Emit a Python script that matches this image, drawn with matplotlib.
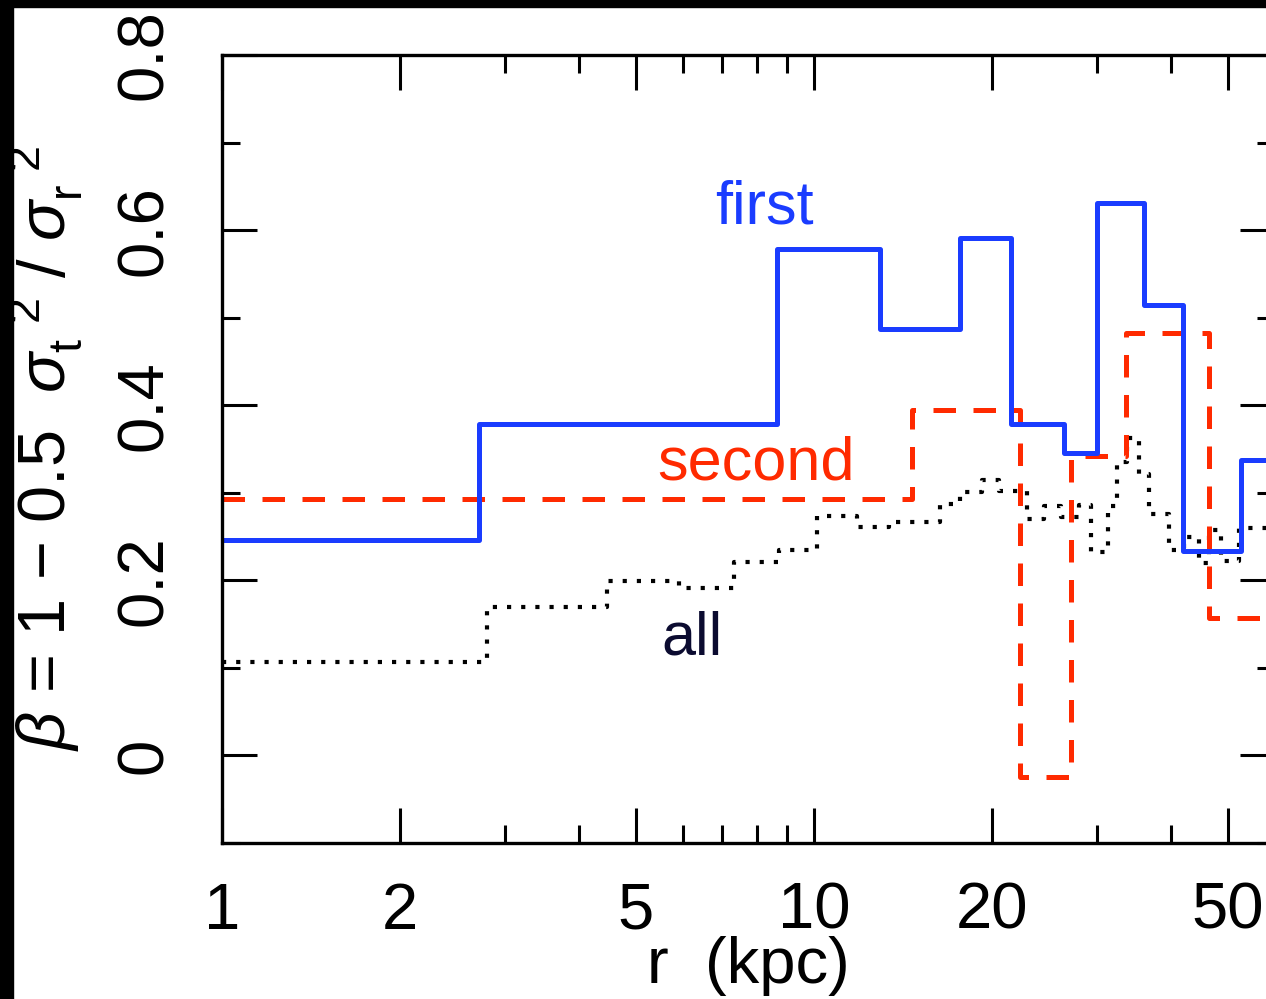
import matplotlib
matplotlib.use('Agg')
import matplotlib.pyplot as plt
from matplotlib.patches import Rectangle
from matplotlib.ticker import LogLocator, NullFormatter, MultipleLocator

# --- data (r in kpc, beta) ---
# "first" step curve: bin edges and beta per bin
first_r = [1.0, 2.72, 8.66, 12.9, 17.6, 21.5, 26.4, 30.0, 36.0, 41.9, 52.5, 80.0]
first_b = [0.246, 0.378, 0.578, 0.487, 0.591, 0.378, 0.346, 0.631, 0.514, 0.233, 0.338]

# "second" step curve
second_r = [1.0, 14.6, 22.3, 27.1, 33.6, 46.5, 80.0]
second_b = [0.293, 0.394, -0.025, 0.342, 0.483, 0.157]

# "all" step curve (finer bins)
all_r = [1.0, 2.80, 4.46, 5.92, 7.33, 8.73, 10.1, 11.8, 13.4, 16.3, 17.6, 19.2,
         20.5, 22.9, 24.4, 26.1, 28.0, 29.3, 31.4, 32.4, 33.7, 35.3, 36.7, 39.7,
         42.1, 44.6, 46.4, 48.6, 52.1, 80.0]
all_b = [0.107, 0.169, 0.199, 0.191, 0.221, 0.235, 0.273, 0.261, 0.267, 0.287,
         0.301, 0.315, 0.302, 0.270, 0.285, 0.272, 0.286, 0.232, 0.285, 0.335,
         0.362, 0.322, 0.276, 0.235, 0.250, 0.220, 0.258, 0.222, 0.260]

xticks = [1, 2, 5, 10, 20, 50]
xticklabels = ['1', '2', '5', '10', '20', '50']
yticks = [0, 0.2, 0.4, 0.6, 0.8]
yticklabels = ['0', '0.2', '0.4', '0.6', '0.8']

blue = '#1a3cff'
red = '#ff2a00'

plt.rcParams['font.family'] = ['Liberation Sans', 'DejaVu Sans']
plt.rcParams['mathtext.fontset'] = 'custom'
plt.rcParams['mathtext.rm'] = 'Liberation Sans'
plt.rcParams['mathtext.it'] = 'Liberation Sans:italic'


def step_curve(ax, edges, vals, **kw):
    ax.step(edges, list(vals) + [vals[-1]], where='post', **kw)


fig = plt.figure(figsize=(12.66, 9.99), dpi=100)
ax = fig.add_axes([222 / 1266, 156 / 999, 1053 / 1266, 788 / 999])

step_curve(ax, all_r, all_b, color='black', lw=3.0, linestyle=(0, (1.0, 2.4)))
step_curve(ax, second_r, second_b, color=red, lw=3.6, linestyle=(0, (4.5, 3.5)))
step_curve(ax, first_r, first_b, color=blue, lw=3.6)

ax.set_xscale('log')
ax.set_xlim(1, 60)
ax.set_ylim(-0.1, 0.8)

ax.set_xticks(xticks)
ax.set_xticklabels(xticklabels)
ax.xaxis.set_minor_locator(LogLocator(base=10, subs=range(2, 10)))
ax.xaxis.set_minor_formatter(NullFormatter())
ax.set_yticks(yticks)
ax.set_yticklabels(yticklabels, rotation=90, va='center')
ax.yaxis.set_minor_locator(MultipleLocator(0.1))

ax.tick_params(which='both', direction='in', top=True, right=True, width=2.2)
ax.tick_params(which='major', length=25)
ax.tick_params(which='minor', length=13)
ax.tick_params(axis='x', which='major', labelsize=47, pad=28)
ax.tick_params(axis='y', which='major', labelsize=47, pad=34)
for s in ax.spines.values():
    s.set_linewidth(2.4)

ax.set_xlabel('r  (kpc)', fontsize=47, labelpad=-4)
ax.set_ylabel(r'$\beta$ = 1 $-$ 0.5  $\sigma_{\rm t}^{\ \ 2}$ / $\sigma_{\rm r}^{\ \ 2}$',
              fontsize=48)
ax.yaxis.set_label_coords(-0.13, 0.5)

ax.text(8.24, 0.608, 'first', color=blue, fontsize=44, ha='center', va='baseline')
ax.text(7.98, 0.315, 'second', color=red, fontsize=44, ha='center', va='baseline')
ax.text(6.23, 0.115, 'all', color='#0b0b30', fontsize=44, ha='center', va='baseline')

# black strips at the top and left edges of the picture
fig.add_artist(Rectangle((0, 0), 13 / 1266, 1, color='black', transform=fig.transFigure))
fig.add_artist(Rectangle((0, 1 - 7 / 999), 1, 7 / 999, color='black', transform=fig.transFigure))

fig.savefig('out.png', dpi=100)
